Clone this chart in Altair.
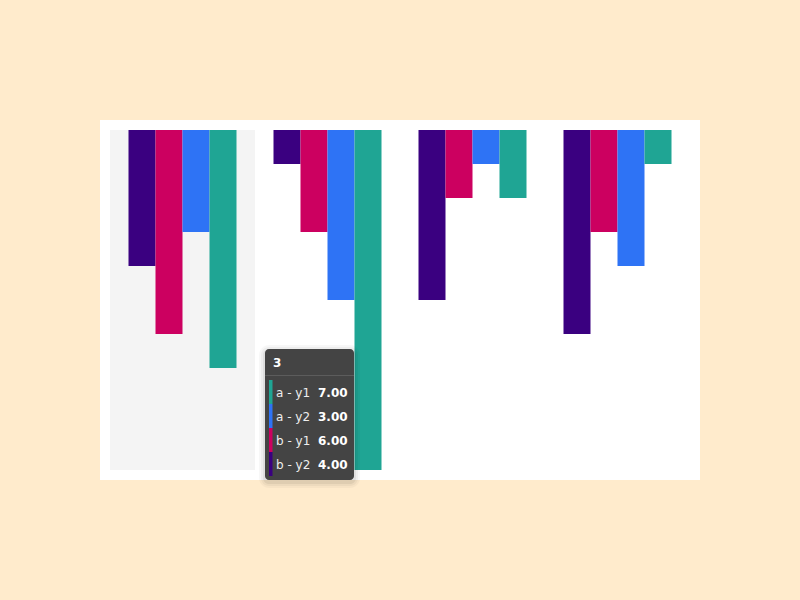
import altair as alt
import pandas as pd

categories = ["3", "4", "5", "6"]
series_names = ["b - y2", "b - y1", "a - y2", "a - y1"]
a_y1 = [7, 10, 2, 1]
a_y2 = [3, 5, 1, 4]
b_y1 = [6, 3, 2, 3]
b_y2 = [4, 1, 5, 6]
colors = ["#3a0080", "#cc0060", "#2e73f5", "#1fa594"]

tooltip_order = ["a - y1", "a - y2", "b - y1", "b - y2"]
highlight_category = "3"

series_values = {"a - y1": a_y1, "a - y2": a_y2, "b - y1": b_y1, "b - y2": b_y2}
rows = []
for i, c in enumerate(categories):
    for s in series_names:
        rows.append({"category": c, "series": s, "value": series_values[s][i]})
df = pd.DataFrame(rows)

hi = categories.index(highlight_category)
tip = pd.DataFrame({
    "series": tooltip_order,
    "value": [series_values[s][hi] for s in tooltip_order],
})
header = pd.DataFrame({"label": [highlight_category]})
one = pd.DataFrame({"k": [0]})

xscale = alt.Scale(domain=categories, paddingInner=0, paddingOuter=0)
color_scale = alt.Scale(domain=series_names, range=colors)

bg = alt.Chart(one).mark_rect(fill="white").encode(
    x=alt.value(-10), x2=alt.value(590), y=alt.value(-10), y2=alt.value(350)
)

shadow = alt.Chart(df[df["category"] == highlight_category]).mark_rect(fill="#f4f4f4").encode(
    x=alt.X("category:N", scale=xscale, axis=None),
    y=alt.value(0), y2=alt.value(340),
)

bars = alt.Chart(df).mark_bar().encode(
    x=alt.X("category:N", scale=xscale, axis=None),
    xOffset=alt.XOffset("series:N", sort=series_names,
                        scale=alt.Scale(domain=series_names, paddingInner=0, paddingOuter=0.685)),
    y=alt.Y("value:Q", scale=alt.Scale(domain=[0, 10], reverse=True), axis=None),
    color=alt.Color("series:N", scale=color_scale, legend=None),
)

tip_shadows = [
    alt.Chart(one).mark_rect(fill="black", opacity=op, cornerRadius=4 + d).encode(
        x=alt.value(155 - d), x2=alt.value(244 + d), y=alt.value(219 - d + 2), y2=alt.value(350 + d + 2)
    )
    for d, op in [(6, 0.03), (4, 0.04), (2, 0.06)]
]

tip_box = alt.Chart(one).mark_rect(fill="#444444", cornerRadius=4).encode(
    x=alt.value(155), x2=alt.value(244), y=alt.value(219), y2=alt.value(350)
)

sep = alt.Chart(one).mark_rule(color="#5c5c5c", strokeWidth=1).encode(
    x=alt.value(155), x2=alt.value(244), y=alt.value(245.5)
)

head = alt.Chart(header).mark_text(
    align="left", baseline="alphabetic", color="white", fontWeight="bold",
    font="DejaVu Sans", fontSize=12
).encode(text="label:N", x=alt.value(163), y=alt.value(237))

rowscale = alt.Scale(type="point", domain=tooltip_order, range=[263, 335], padding=0)
tickscale = alt.Scale(type="point", domain=tooltip_order, range=[262, 334], padding=0)

ticks = alt.Chart(tip).mark_tick(orient="vertical", thickness=3.5, size=24).encode(
    x=alt.value(160.75),
    y=alt.Y("series:N", scale=tickscale, axis=None),
    color=alt.Color("series:N", scale=color_scale, legend=None),
    opacity=alt.value(1),
)

labels = alt.Chart(tip).mark_text(
    align="left", baseline="middle", color="#eeeeee", font="DejaVu Sans", fontSize=12
).encode(
    x=alt.value(166),
    y=alt.Y("series:N", scale=rowscale, axis=None),
    text="series:N",
)

vals = alt.Chart(tip).mark_text(
    align="left", baseline="middle", color="white", fontWeight="bold",
    font="DejaVu Sans", fontSize=12
).encode(
    x=alt.value(208),
    y=alt.Y("series:N", scale=rowscale, axis=None),
    text=alt.Text("value:Q", format=".2f"),
)

chart = alt.layer(
    bg, shadow, bars, *tip_shadows, tip_box, sep, head, ticks, labels, vals
).resolve_scale(y="independent").properties(
    width=580, height=340,
    padding={"left": 110, "top": 130, "right": 110, "bottom": 130},
    autosize=alt.AutoSizeParams(type="none"),
    background="#ffebcc",
).configure_view(strokeWidth=0)

chart.save("out.html", embed_options={"renderer": "svg", "actions": False})
